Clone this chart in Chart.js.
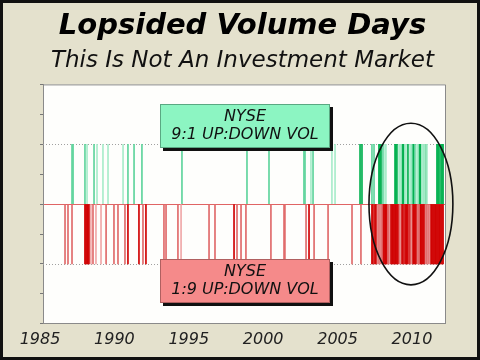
<!DOCTYPE html>
<html><head><meta charset="utf-8">
<script src="https://cdn.jsdelivr.net/npm/chart.js@4/dist/chart.umd.min.js"></script>
<style>
html,body{margin:0;padding:0;background:#e4e1cd;}
#frame{position:absolute;left:0;top:0;width:480px;height:360px;box-sizing:border-box;border:3px solid #111;background:#e4e1cd;}
#c{position:absolute;left:0;top:0;}
</style></head><body>
<div id="frame"></div>
<canvas id="c" width="480" height="360"></canvas>
<script>
const titleText = 'Lopsided Volume Days';
const subtitleText = 'This Is Not An Investment Market';
const xTickYears = [1985, 1990, 1995, 2000, 2005, 2010];
const upLabel = ['NYSE', '9:1 UP:DOWN VOL'];
const downLabel = ['NYSE', '1:9 UP:DOWN VOL'];

// 9:1 up-volume days (decimal year)
const upDaysPale = [1988.16, 1988.83, 1989.23, 1989.57, 1990.58, 2003.21, 2004.62, 2004.83,
  2008.19, 2008.25, 2009.13, 2009.19, 2009.26, 2009.53, 2009.60, 2009.87, 2009.93, 2010.34,
  2010.40, 2010.67, 2010.74, 2010.87, 2011.01];
const upDaysMid = [1987.15, 1987.22, 1988.02, 1988.63, 1990.91, 1991.32, 1991.85, 1994.54,
  1998.91, 2000.39, 2002.74, 2002.81, 2003.35, 2007.31, 2007.45, 2008.05, 2009.99, 2010.20,
  2010.81];
const upDaysStrong = [2006.51, 2006.64, 2007.78, 2007.85, 2007.92, 2008.86, 2008.92, 2008.99,
  2009.33, 2009.40, 2009.46, 2009.73, 2010.07, 2010.13, 2010.47, 2010.54, 2010.60, 2010.94,
  2011.68, 2011.75, 2011.82, 2011.95, 2012.02, 2012.09];

// 1:9 down-volume days (decimal year)
const downDaysPale = [1988.42, 1988.76, 1989.10, 1994.48];
const downDaysMid = [1986.68, 1986.88, 1987.15, 1988.56, 1989.44, 1989.97, 1990.24, 1990.71,
  1991.92, 1993.33, 1993.47, 1994.27, 1996.36, 1996.76, 1998.24, 1998.51, 1998.84, 2000.52,
  2001.40, 2001.46, 2002.88, 2003.42, 2004.36, 2005.97, 2006.57, 2007.72, 2007.85, 2007.98,
  2008.39, 2008.45, 2009.19, 2009.93, 2010.40, 2010.47, 2010.94, 2011.01, 2011.14];
const downDaysStrong = [1988.02, 1988.09, 1988.16, 1988.22, 1988.29, 1990.91, 1991.65, 1992.12,
  1998.04, 2003.08, 2007.31, 2007.38, 2007.51, 2007.58, 2008.05, 2008.12, 2008.19, 2008.25,
  2008.32, 2008.59, 2008.66, 2008.72, 2008.79, 2008.86, 2008.92, 2008.99, 2009.06, 2009.33,
  2009.40, 2009.53, 2009.60, 2009.66, 2009.73, 2009.87, 2010.07, 2010.13, 2010.20, 2010.27,
  2010.54, 2010.60, 2010.67, 2010.74, 2010.81, 2011.28, 2011.34, 2011.41, 2011.48, 2011.55,
  2011.61, 2011.68, 2011.75, 2011.82, 2011.88, 2011.95, 2012.02, 2012.09];

const mk = (label, days, val, color) => ({
  label, data: days.map(d => ({x: d, y: val})),
  backgroundColor: color, borderWidth: 0, barThickness: 1, grouped: false
});

const decor = {
  id: 'decor',
  beforeDraw(chart) {
    const {ctx, chartArea: a} = chart;
    ctx.save();
    ctx.fillStyle = '#fefefc';
    ctx.fillRect(a.left, a.top, a.right - a.left, a.bottom - a.top);
    ctx.restore();
  },
  beforeDatasetsDraw(chart) {
    const {ctx, chartArea: a, scales: {y}} = chart;
    ctx.save();
    ctx.strokeStyle = '#a0a0a0';
    ctx.lineWidth = 1;
    ctx.setLineDash([1, 2]);
    [1, -1].forEach(v => {
      const py = Math.round(y.getPixelForValue(v)) + 0.5;
      ctx.beginPath(); ctx.moveTo(a.left, py); ctx.lineTo(a.right, py); ctx.stroke();
    });
    ctx.restore();
  },
  afterDatasetsDraw(chart) {
    const {ctx, chartArea: a, scales: {x, y}} = chart;
    ctx.save();
    ctx.strokeStyle = '#8a8a8a'; ctx.lineWidth = 1;
    ctx.beginPath();
    ctx.moveTo(a.left, a.top + 0.5); ctx.lineTo(a.right + 0.5, a.top + 0.5); ctx.lineTo(a.right + 0.5, a.bottom);
    ctx.stroke();
    const box = (x0, x1, y0, y1, fill, edge, lines) => {
      const L = Math.round(x.getPixelForValue(x0)), R = Math.round(x.getPixelForValue(x1));
      const T = Math.round(y.getPixelForValue(y0)), B = Math.round(y.getPixelForValue(y1));
      ctx.fillStyle = '#111';
      ctx.fillRect(L + 3, T + 3, R - L, B - T);
      ctx.fillStyle = fill;
      ctx.fillRect(L, T, R - L, B - T);
      ctx.strokeStyle = edge; ctx.lineWidth = 1;
      ctx.strokeRect(L + 0.5, T + 0.5, R - L - 1, B - T - 1);
      ctx.fillStyle = '#111';
      ctx.font = 'italic 16px "DejaVu Sans"';
      ctx.textAlign = 'center'; ctx.textBaseline = 'middle';
      const cx = (L + R) / 2, cy = (T + B) / 2;
      ctx.fillText(lines[0], cx, cy - 9);
      ctx.fillText(lines[1], cx, cy + 9);
    };
    box(1993.06, 2004.49, 1.68, 0.93, '#8cf5c2', '#5aa882', upLabel);
    box(1993.06, 2004.49, -0.92, -1.66, '#f58a8a', '#b06060', downLabel);
    const ex = x.getPixelForValue(2009.93), ey = y.getPixelForValue(0);
    const rx = x.getPixelForValue(2009.93 + 2.82) - ex;
    const ry = ey - y.getPixelForValue(1.35);
    ctx.strokeStyle = '#111'; ctx.lineWidth = 1.6;
    ctx.beginPath(); ctx.ellipse(ex, ey, rx, ry, 0, 0, Math.PI * 2); ctx.stroke();
    ctx.restore();
  }
};

new Chart(document.getElementById('c'), {
  type: 'bar',
  data: {
    datasets: [
      mk('Up pale', upDaysPale, 1, '#a8ecca'),
      mk('Up mid', upDaysMid, 1, '#5fd49c'),
      mk('Up strong', upDaysStrong, 1, '#00b04e'),
      mk('Down pale', downDaysPale, -1, '#f0a8a8'),
      mk('Down mid', downDaysMid, -1, '#e06a6a'),
      mk('Down strong', downDaysStrong, -1, '#d00000')
    ]
  },
  options: {
    responsive: false, animation: false, devicePixelRatio: 1,
    layout: {padding: {top: 3, left: 40, right: 35, bottom: 5}},
    scales: {
      x: {
        type: 'linear', min: 1985.2, max: 2012.22, offset: false,
        grid: {display: false, drawTicks: false},
        border: {color: '#8a8a8a'},
        afterBuildTicks: s => { s.ticks = xTickYears.map(v => ({value: v})); },
        ticks: {padding: 6, color: '#222', maxRotation: 0, autoSkip: false,
          callback: v => String(v),
          font: {family: 'DejaVu Sans', style: 'italic', size: 16}}
      },
      y: {
        min: -2, max: 2,
        ticks: {display: false, stepSize: 0.5},
        grid: {drawTicks: true, tickLength: 3, tickColor: '#777',
          color: c => (c.tick && c.tick.value === 0) ? '#e06464' : 'rgba(0,0,0,0)'},
        border: {color: '#8a8a8a'}
      }
    },
    plugins: {
      legend: {display: false}, tooltip: {enabled: false},
      title: {display: true, text: titleText, color: '#000',
        font: {family: 'DejaVu Sans', size: 29, weight: 'bold', style: 'italic'},
        padding: {top: 6, bottom: 2}},
      subtitle: {display: true, text: subtitleText, color: '#111',
        font: {family: 'DejaVu Sans', size: 23, style: 'italic', weight: 'normal'},
        padding: {top: 1, bottom: 10}}
    }
  },
  plugins: [decor]
});
</script>
</body></html>
